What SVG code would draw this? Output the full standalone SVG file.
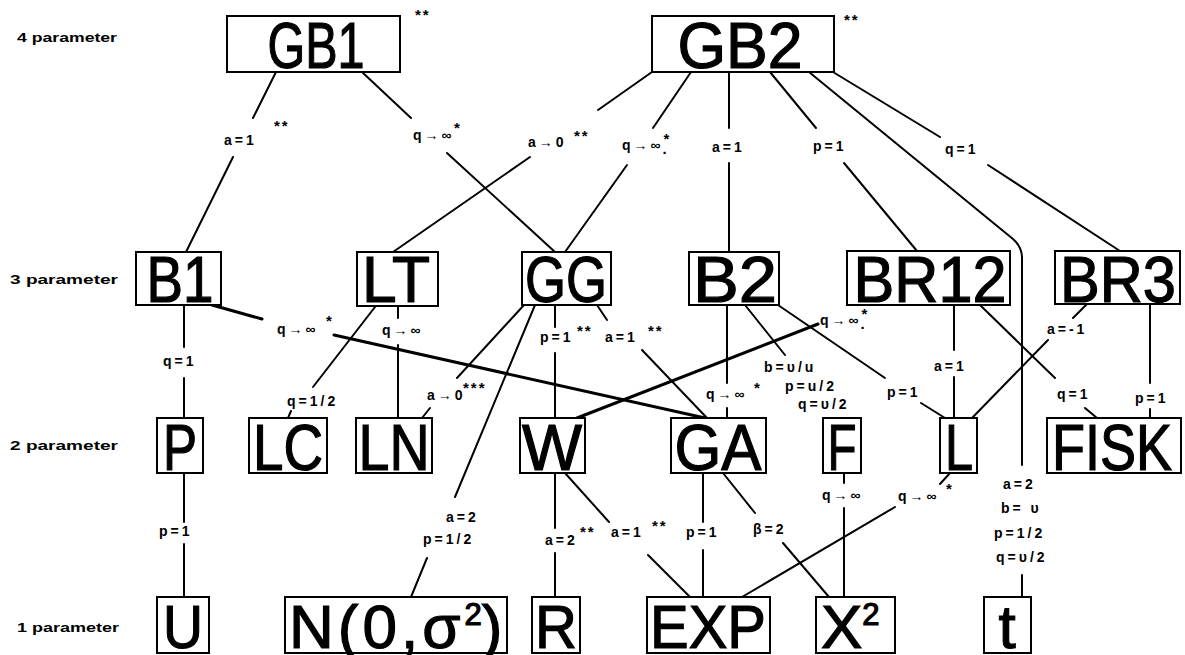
<svg xmlns="http://www.w3.org/2000/svg" width="1185" height="655" viewBox="0 0 1185 655">
  <style>
    .box { fill: #fff; stroke: #000; stroke-width: 2; }
    .nm { font-family: "Liberation Sans", Arial, sans-serif; font-size: 64px; fill: #000; stroke: #000; stroke-width: 1.2; text-anchor: middle; }
    .nm2 { font-family: "Liberation Sans", Arial, sans-serif; font-size: 62px; fill: #000; stroke: #000; stroke-width: 1.2; }
    .low { font-size: 62px; }
    .row { font-family: "Liberation Sans", Arial, sans-serif; font-size: 13px; font-weight: bold; fill: #000; }
    .lb { font-family: "Liberation Sans", Arial, sans-serif; font-size: 14px; font-weight: bold; letter-spacing: 3px; fill: #000; }
    .st { font-family: "Liberation Sans", Arial, sans-serif; font-size: 15px; font-weight: bold; letter-spacing: 2px; fill: #000; }
    .ln { fill: none; stroke: #000; stroke-width: 2; stroke-linecap: round; stroke-linejoin: round; }
    .lnb { fill: none; stroke: #000; stroke-width: 3; stroke-linecap: round; }
  </style>

  <!-- row captions -->
  <g id="row-labels">
    <text class="row" x="17" y="42" textLength="100" lengthAdjust="spacingAndGlyphs">4 parameter</text>
    <text class="row" x="10" y="284" textLength="108" lengthAdjust="spacingAndGlyphs">3 parameter</text>
    <text class="row" x="10" y="450" textLength="108" lengthAdjust="spacingAndGlyphs">2 parameter</text>
    <text class="row" x="17" y="632" textLength="102" lengthAdjust="spacingAndGlyphs">1 parameter</text>
  </g>

  <!-- connectors, broken where the parameter restriction is written -->
  <g id="connectors">
    <path class="ln" d="M276,72 L253,118 M233,157 L186,252"/>
    <path class="ln" d="M362,72 L411,118 M447,153 L555,252"/>
    <path class="ln" d="M652,72 L598,110 M530,157 L393,252"/>
    <path class="ln" d="M691,72 L653,128 M627,165 L565,252"/>
    <path class="ln" d="M729,72 L729,128 M729,163 L729,252"/>
    <path class="ln" d="M770,72 L816,128 M844,163 L917,251"/>
    <path class="ln" d="M809,72 L1013,239 Q1022,247 1022,258 L1022,465 M1022,575 L1022,597"/>
    <path class="ln" d="M833,72 L940,137 M988,165 L1120,251"/>

    <path class="ln" d="M184,305 L184,347 M184,378 L184,418"/>
    <path class="lnb" d="M212,305 L262,319 M334,335 L705,418"/>
    <path class="ln" d="M375,307 L313,387 M291,411 L288,418"/>
    <path class="ln" d="M398,307 L398,318 M398,345 L398,418"/>
    <path class="ln" d="M524,305 L457,378 M430,408 L422,418"/>
    <path class="ln" d="M535,305 L455,497 M427,558 L411,597"/>
    <path class="ln" d="M555,305 L555,327 M555,353 L555,418"/>
    <path class="ln" d="M597,305 L607,320 M642,350 L707,418"/>
    <path class="ln" d="M727,305 L727,383 M727,408 L727,418"/>
    <path class="ln" d="M745,305 L785,355"/>
    <path class="ln" d="M778,305 L885,378 M921,403 L945,418"/>
    <path class="lnb" d="M818,324 L577,418"/>
    <path class="ln" d="M954,305 L954,350 M954,377 L954,418"/>
    <path class="ln" d="M980,305 L1055,378 M1085,408 L1097,418"/>
    <path class="ln" d="M1087,304 L1073,318 M1048,340 L972,418"/>
    <path class="ln" d="M1150,304 L1150,383 M1150,409 L1150,418"/>

    <path class="ln" d="M184,473 L184,522 M184,544 L184,597"/>
    <path class="ln" d="M555,473 L555,528 M555,553 L555,597"/>
    <path class="ln" d="M565,473 L609,522 M648,555 L690,597"/>
    <path class="ln" d="M703,473 L703,522 M703,550 L703,597"/>
    <path class="ln" d="M723,473 L755,513 M783,543 L829,597"/>
    <path class="ln" d="M844,473 L844,483 M844,508 L844,597"/>
    <path class="ln" d="M950,473 L940,484 M895,507 L742,597"/>
  </g>

  <!-- restriction labels -->
  <g id="edge-labels">
    <text class="lb" x="224" y="145">a=1</text><text class="st" x="274" y="131">**</text>
    <text class="lb" x="413" y="140">q→∞</text><text class="st" x="454" y="133">*</text>
    <text class="lb" x="528" y="147">a→0</text><text class="st" x="574" y="141">**</text>
    <text class="lb" x="622" y="150">q→∞<tspan class="st" dx="0" dy="-6">*</tspan><tspan class="st" dx="-9" dy="10">.</tspan></text>
    <text class="lb" x="712" y="152">a=1</text>
    <text class="lb" x="813" y="151">p=1</text>
    <text class="lb" x="945" y="154">q=1</text>

    <text class="lb" x="163" y="366">q=1</text>
    <text class="lb" x="277" y="334">q→∞</text><text class="st" x="326" y="326">*</text>
    <text class="lb" x="287" y="406">q=1/2</text>
    <text class="lb" x="382" y="335">q→∞</text>
    <text class="lb" x="427" y="400">a→0</text><text class="st" x="463" y="393">***</text>
    <text class="lb" x="446" y="522">a=2</text>
    <text class="lb" x="423" y="544">p=1/2</text>
    <text class="lb" x="540" y="342">p=1</text><text class="st" x="577" y="336">**</text>
    <text class="lb" x="605" y="342">a=1</text><text class="st" x="648" y="336">**</text>
    <text class="lb" x="706" y="399">q→∞</text><text class="st" x="754" y="393">*</text>
    <text class="lb" x="764" y="372">b=υ/u</text>
    <text class="lb" x="785" y="391">p=u/2</text>
    <text class="lb" x="798" y="409">q=υ/2</text>
    <text class="lb" x="887" y="397">p=1</text>
    <text class="lb" x="820" y="325">q→∞<tspan class="st" dx="0" dy="-6">*</tspan><tspan class="st" dx="-9" dy="10">.</tspan></text>
    <text class="lb" x="934" y="371">a=1</text>
    <text class="lb" x="1057" y="399">q=1</text>
    <text class="lb" x="1047" y="334">a=-1</text>
    <text class="lb" x="1135" y="403">p=1</text>

    <text class="lb" x="159" y="536">p=1</text>
    <text class="lb" x="545" y="545">a=2</text><text class="st" x="580" y="537">**</text>
    <text class="lb" x="611" y="537">a=1</text><text class="st" x="652" y="531">**</text>
    <text class="lb" x="686" y="537">p=1</text>
    <text class="lb" x="753" y="534">β=2</text>
    <text class="lb" x="822" y="500">q→∞</text>
    <text class="lb" x="898" y="501">q→∞</text><text class="st" x="946" y="494">*</text>
    <text class="lb" x="1003" y="489">a=2</text>
    <text class="lb" x="1001" y="513">b= υ</text>
    <text class="lb" x="994" y="538">p=1/2</text>
    <text class="lb" x="996" y="562">q=υ/2</text>
  </g>

  <!-- 4 parameter -->
  <g id="GB1">
    <rect class="box" x="227" y="16" width="173" height="56"/>
    <text class="nm" x="316" y="68" textLength="97" lengthAdjust="spacingAndGlyphs">GB1</text>
    <text class="st" x="415" y="20">**</text>
  </g>
  <g id="GB2">
    <rect class="box" x="652" y="16" width="182" height="56"/>
    <text class="nm" x="740" y="68" textLength="125" lengthAdjust="spacingAndGlyphs">GB2</text>
    <text class="st" x="844" y="25">**</text>
  </g>

  <!-- 3 parameter -->
  <g id="B1">
    <rect class="box" x="136" y="252" width="85" height="53"/>
    <text class="nm" x="180" y="302" textLength="67" lengthAdjust="spacingAndGlyphs">B1</text>
  </g>
  <g id="LT">
    <rect class="box" x="357" y="252" width="81" height="54"/>
    <text class="nm" x="396" y="302" textLength="68" lengthAdjust="spacingAndGlyphs">LT</text>
  </g>
  <g id="GG">
    <rect class="box" x="522" y="252" width="89" height="53"/>
    <text class="nm" x="566" y="302" textLength="82" lengthAdjust="spacingAndGlyphs">GG</text>
  </g>
  <g id="B2">
    <rect class="box" x="689" y="252" width="90" height="53"/>
    <text class="nm" x="735" y="302" textLength="84" lengthAdjust="spacingAndGlyphs">B2</text>
  </g>
  <g id="BR12">
    <rect class="box" x="847" y="251" width="163" height="54"/>
    <text class="nm" x="930" y="302" textLength="153" lengthAdjust="spacingAndGlyphs">BR12</text>
  </g>
  <g id="BR3">
    <rect class="box" x="1055" y="251" width="125" height="53"/>
    <text class="nm" x="1118" y="302" textLength="116" lengthAdjust="spacingAndGlyphs">BR3</text>
  </g>

  <!-- 2 parameter -->
  <g id="P">
    <rect class="box" x="157" y="418" width="46" height="55"/>
    <text class="nm" x="180" y="470" textLength="34" lengthAdjust="spacingAndGlyphs">P</text>
  </g>
  <g id="LC">
    <rect class="box" x="249" y="418" width="78" height="55"/>
    <text class="nm" x="288" y="470" textLength="70" lengthAdjust="spacingAndGlyphs">LC</text>
  </g>
  <g id="LN">
    <rect class="box" x="356" y="418" width="76" height="55"/>
    <text class="nm" x="394" y="470" textLength="71" lengthAdjust="spacingAndGlyphs">LN</text>
  </g>
  <g id="W">
    <rect class="box" x="520" y="418" width="65" height="55"/>
    <text class="nm" x="552" y="470" textLength="60" lengthAdjust="spacingAndGlyphs">W</text>
  </g>
  <g id="GA">
    <rect class="box" x="671" y="418" width="95" height="55"/>
    <text class="nm" x="718" y="470" textLength="87" lengthAdjust="spacingAndGlyphs">GA</text>
  </g>
  <g id="F">
    <rect class="box" x="823" y="418" width="38" height="55"/>
    <text class="nm" x="842" y="470" textLength="29" lengthAdjust="spacingAndGlyphs">F</text>
  </g>
  <g id="L">
    <rect class="box" x="940" y="418" width="37" height="55"/>
    <text class="nm" x="959" y="470" textLength="28" lengthAdjust="spacingAndGlyphs">L</text>
  </g>
  <g id="FISK">
    <rect class="box" x="1047" y="418" width="134" height="55"/>
    <text class="nm" x="1112" y="470" textLength="120" lengthAdjust="spacingAndGlyphs">FISK</text>
  </g>

  <!-- 1 parameter -->
  <g id="U">
    <rect class="box" x="157" y="597" width="52" height="56"/>
    <text class="nm low" x="183" y="648" textLength="40" lengthAdjust="spacingAndGlyphs">U</text>
  </g>
  <g id="N">
    <rect class="box" x="285" y="597" width="222" height="56"/>
    <text class="nm2" x="289" y="648" letter-spacing="4">N(0,σ<tspan font-size="31" dy="-23" letter-spacing="0">2</tspan><tspan dy="23">)</tspan></text>
  </g>
  <g id="R">
    <rect class="box" x="532" y="597" width="48" height="56"/>
    <text class="nm low" x="556" y="648" textLength="42" lengthAdjust="spacingAndGlyphs">R</text>
  </g>
  <g id="EXP">
    <rect class="box" x="647" y="597" width="123" height="56"/>
    <text class="nm low" x="708" y="648" textLength="116" lengthAdjust="spacingAndGlyphs">EXP</text>
  </g>
  <g id="CHI2">
    <rect class="box" x="816" y="597" width="79" height="56"/>
    <text class="nm2" x="821" y="648">X<tspan font-size="31" dy="-23">2</tspan></text>
  </g>
  <g id="t">
    <rect class="box" x="984" y="597" width="47" height="56"/>
    <text class="nm low" x="1007" y="648">t</text>
  </g>
</svg>
